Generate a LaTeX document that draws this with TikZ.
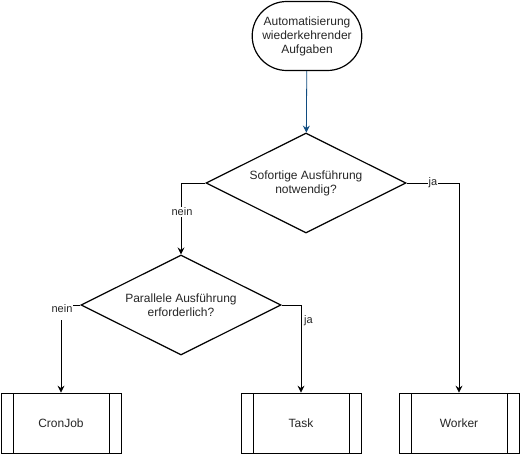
\documentclass[tikz,border=0pt]{standalone}
\usepackage{fontspec}
\setmainfont{Liberation Sans}
\usetikzlibrary{shapes.geometric}
\usetikzlibrary{shapes.misc}
\usetikzlibrary{arrows.meta}
\definecolor{startblue}{HTML}{104C80}

\begin{document}
\begin{tikzpicture}[x=1pt, y=-1pt,
	every node/.style={font=\fontsize{12}{14}\selectfont, text=black!85},
	terminal/.style={rounded rectangle, draw, line width=1.2pt, minimum width=107pt, minimum height=69pt, inner xsep=4pt, align=center},
	decision/.style={diamond, draw, line width=1.2pt, aspect=2, minimum width=200pt, minimum height=100pt, inner sep=0pt, align=center},
	process/.style={draw, line width=0.8pt, minimum width=120pt, minimum height=60pt,
		path picture={
			\draw[line width=0.8pt] ([xshift=12pt]path picture bounding box.north west) -- ([xshift=12pt]path picture bounding box.south west);
			\draw[line width=0.8pt] ([xshift=-12pt]path picture bounding box.north east) -- ([xshift=-12pt]path picture bounding box.south east);
		}},
	flow/.style={draw, line width=0.8pt, -{Stealth[length=7pt, width=7pt, inset=2.5pt]}},
	edgelabel/.style={font=\fontsize{11}{13}\selectfont, fill=white, inner sep=1pt}
	]

	% Drawing frame
	\useasboundingbox (0,0) rectangle (520,455);

	%Start and decisions
	\node [terminal] (start) at (307,36) {Automatisierung\\wiederkehrender\\Aufgaben};
	\node [decision] (sofort) at (306,183) {Sofortige Ausführung\\notwendig?};
	\node [decision] (parallel) at (181,305) {Parallele Ausführung\\erforderlich?};

	%Processes
	\node [process] (cron) at (61,423) {CronJob};
	\node [process] (task) at (301,423) {Task};
	\node [process] (worker) at (459,423) {Worker};

	%Connecting
	\draw [flow, draw=startblue] (start) -- (sofort);
	\draw [flow] (sofort.west) -| (parallel.north);
	\draw [flow] (sofort.east) -| (worker.north);
	\draw [flow] (parallel.west) -| (cron.north);
	\draw [flow] (parallel.east) -| (task.north);

	%Labelling
	\node [edgelabel] (neinA) at (182,212) {nein};
	\node [edgelabel] (jaA) at (433,183) {ja};
	\node [edgelabel, inner ysep=7pt] (neinB) at (62,309) {nein};
	\node [edgelabel, fill=none, right] (jaB) at (303,321) {ja};

\end{tikzpicture}
\end{document}
